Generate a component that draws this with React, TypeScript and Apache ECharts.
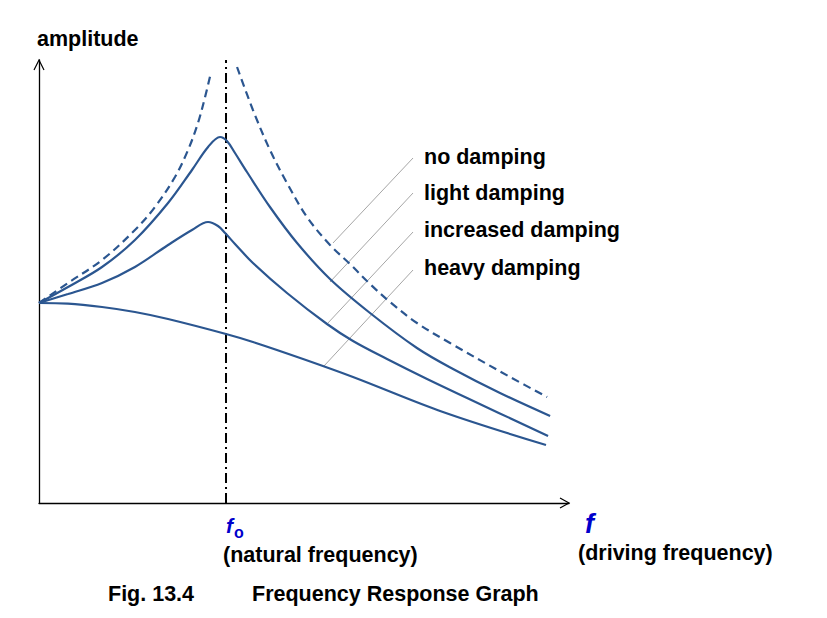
import React, { useEffect, useRef } from "react";
import * as echarts from "echarts";

// Frequency ratio f/f0 (x) and amplitude (y, static amplitude = 1)
const noDampingLeft: [number, number][] = [
  [0, 1.0], [0.155, 1.1], [0.337, 1.215], [0.513, 1.365], [0.62, 1.48],
  [0.727, 1.63], [0.797, 1.765], [0.85, 1.9], [0.888, 2.03], [0.92, 2.155],
];
const noDampingRight: [number, number][] = [
  [1.059, 2.18], [1.144, 1.965], [1.235, 1.765], [1.326, 1.6], [1.433, 1.43],
  [1.556, 1.29], [1.663, 1.195], [1.77, 1.095], [1.877, 1.005], [2.021, 0.9],
  [2.198, 0.8], [2.519, 0.63], [2.717, 0.53],
];
const lightDamping: [number, number][] = [
  [0, 1.0], [0.155, 1.08], [0.337, 1.18], [0.513, 1.315], [0.69, 1.5],
  [0.818, 1.665], [0.904, 1.78], [0.968, 1.83], [1.005, 1.81], [1.048, 1.75],
  [1.112, 1.655], [1.235, 1.48], [1.38, 1.3], [1.556, 1.12], [1.77, 0.95],
  [2.021, 0.775], [2.214, 0.67], [2.465, 0.55], [2.733, 0.435],
];
const increasedDamping: [number, number][] = [
  [0, 1.0], [0.155, 1.045], [0.337, 1.1], [0.513, 1.18], [0.69, 1.29],
  [0.818, 1.365], [0.904, 1.405], [0.957, 1.385], [0.995, 1.35], [1.048, 1.295],
  [1.144, 1.2], [1.326, 1.05], [1.54, 0.895], [1.679, 0.81], [1.861, 0.72],
  [2.075, 0.62], [2.289, 0.525], [2.722, 0.335],
];
const heavyDamping: [number, number][] = [
  [0, 1.0], [0.155, 0.997], [0.337, 0.98], [0.513, 0.955], [0.69, 0.92],
  [1.0, 0.845], [1.144, 0.805], [1.412, 0.72], [1.679, 0.63], [2.16, 0.455],
  [2.711, 0.29],
];
const naturalFrequency: [number, number][] = [[1.0, 0], [1.0, 2.215]];

const labelNames = ["no damping", "light damping", "increased damping", "heavy damping"];
const leaderLines: [number, number][][] = [
  [[1.572, 1.3], [2.0, 1.725]],
  [[1.556, 1.105], [2.0, 1.55]],
  [[1.545, 0.9], [2.0, 1.355]],
  [[1.519, 0.68], [2.0, 1.165]],
];

const X_MAX = 2.834;
const Y_MAX = 2.215;

export default function App() {
  const ref = useRef<HTMLDivElement>(null);
  useEffect(() => {
    if (!ref.current) return;
    const chart = echarts.init(ref.current, null, { renderer: "svg" });
    const gl = 39, gt = 60, gw = 530, gh = 443;
    const curveColor = "#2b5690";
    const font = "Liberation Sans, Arial, sans-serif";
    const txt = (text: string, x: number, y: number, extra: any = {}) => ({
      type: "text",
      x,
      y,
      style: {
        text,
        fill: "#000",
        font: `bold 21.5px ${font}`,
        textVerticalAlign: "middle",
        ...extra,
      },
    });
    const labelY = [157, 193, 230, 268];
    const curve = (data: [number, number][], dashed = false) => ({
      type: "line",
      data,
      symbol: "none",
      smooth: 0.35,
      lineStyle: { color: curveColor, width: 2.2, type: dashed ? [8, 5] : "solid" },
      z: 3,
    });
    chart.setOption({
      animation: false,
      grid: { left: gl, top: gt, width: gw, height: gh, containLabel: false },
      xAxis: {
        type: "value",
        min: 0,
        max: X_MAX,
        axisLine: { show: true, lineStyle: { color: "#000", width: 1.3 } },
        axisTick: { show: false },
        axisLabel: { show: false },
        splitLine: { show: false },
      },
      yAxis: {
        type: "value",
        min: 0,
        max: Y_MAX,
        axisLine: { show: true, lineStyle: { color: "#000", width: 1.3 } },
        axisTick: { show: false },
        axisLabel: { show: false },
        splitLine: { show: false },
      },
      series: [
        {
          type: "line", data: naturalFrequency, symbol: "none",
          lineStyle: { color: "#000", width: 2, type: [10, 4, 2, 4] }, z: 1,
        },
        ...leaderLines.map((d) => ({
          type: "line", data: d, symbol: "none",
          lineStyle: { color: "#a6a6a6", width: 1 }, z: 1,
        })),
        curve(noDampingLeft, true),
        curve(noDampingRight, true),
        curve(lightDamping),
        curve(increasedDamping),
        curve(heavyDamping),
      ],
      graphic: [
        {
          type: "polyline",
          shape: { points: [[gl - 5, gt + 10], [gl, gt], [gl + 5, gt + 10]] },
          style: { stroke: "#000", lineWidth: 1.2, fill: "none" },
        },
        {
          type: "polyline",
          shape: { points: [[gl + gw - 9, gt + gh - 5], [gl + gw, gt + gh], [gl + gw - 9, gt + gh + 5]] },
          style: { stroke: "#000", lineWidth: 1.2, fill: "none" },
        },
        txt("amplitude", 37, 39),
        ...labelNames.map((n, i) => txt(n, 424, labelY[i])),
        txt("f", 226, 525, { fill: "#0000cc", font: `italic bold 21px ${font}` }),
        txt("o", 234, 532, { fill: "#0000cc", font: `bold 16px ${font}` }),
        txt("(natural frequency)", 223, 555),
        txt("f", 585, 524, { fill: "#0000cc", font: `italic bold 27px ${font}` }),
        txt("(driving frequency)", 578, 553),
        txt("Fig. 13.4", 108, 594),
        txt("Frequency Response Graph", 252, 594),
      ],
    });
    return () => chart.dispose();
  }, []);
  return (
    <div
      ref={ref}
      style={{ position: "absolute", left: 0, top: 0, width: 827, height: 618, background: "#fff" }}
    />
  );
}
